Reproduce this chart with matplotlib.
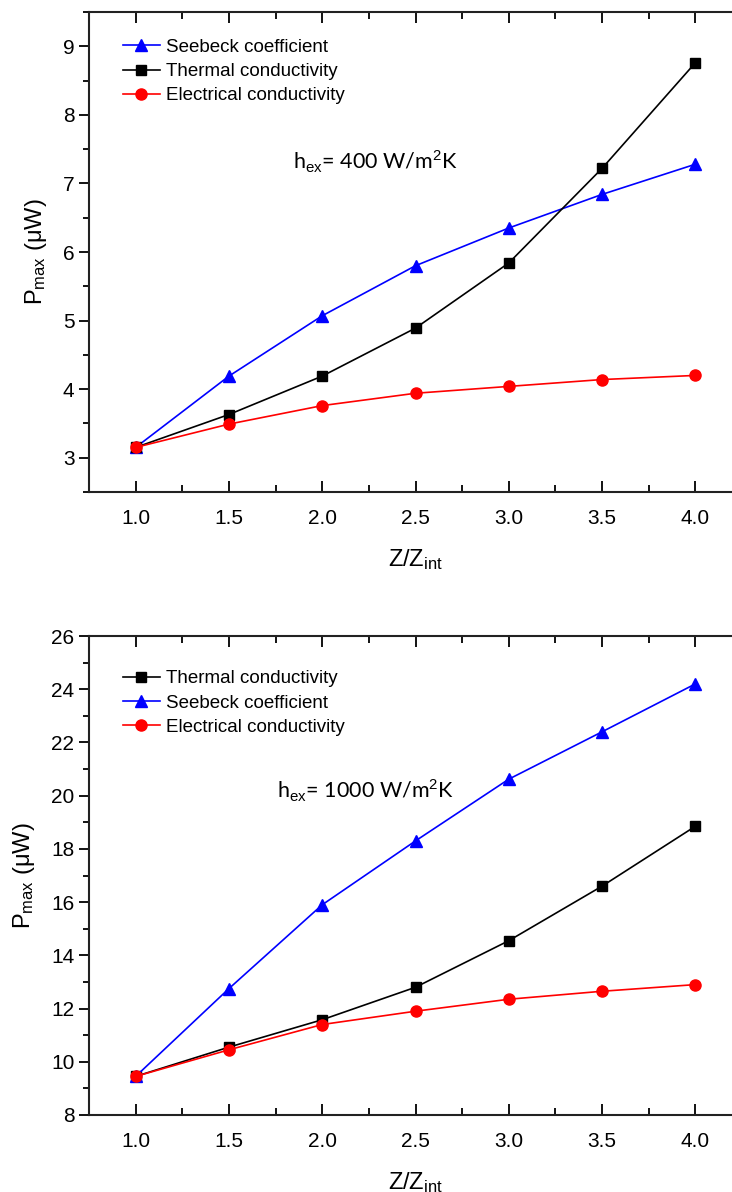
import matplotlib
matplotlib.use("Agg")
import matplotlib.pyplot as plt
from matplotlib.ticker import MultipleLocator

# ─── Data ────────────────────────────────────────────────────────────────────

z_ratio = [1.0, 1.5, 2.0, 2.5, 3.0, 3.5, 4.0]

# h_ex = 400 W/m2K
seebeck_400    = [3.15, 4.19, 5.07, 5.80, 6.35, 6.84, 7.28]
thermal_400    = [3.15, 3.63, 4.19, 4.89, 5.84, 7.22, 8.76]
electrical_400 = [3.15, 3.49, 3.76, 3.94, 4.04, 4.14, 4.20]

# h_ex = 1000 W/m2K
thermal_1000    = [9.45, 10.55, 11.58, 12.80, 14.55, 16.60, 18.85]
seebeck_1000    = [9.45, 12.75, 15.90, 18.30, 20.62, 22.40, 24.20]
electrical_1000 = [9.45, 10.45, 11.40, 11.90, 12.35, 12.65, 12.90]

x_ticks = [1.0, 1.5, 2.0, 2.5, 3.0, 3.5, 4.0]

# ─── Style ───────────────────────────────────────────────────────────────────

plt.rcParams["font.family"] = ["Liberation Sans", "DejaVu Sans"]
plt.rcParams["mathtext.fontset"] = "custom"
plt.rcParams["mathtext.rm"] = "Liberation Sans"
plt.rcParams["mathtext.it"] = "Liberation Sans:italic"

STYLES = {
    "Seebeck coefficient":     dict(color="#0000ff", marker="^", markersize=9),
    "Thermal conductivity":    dict(color="#000000", marker="s", markersize=7),
    "Electrical conductivity": dict(color="#ff0000", marker="o", markersize=8),
}

fig = plt.figure(figsize=(7.32, 11.92), dpi=100)

# axes run slightly past the right edge, as in the cropped original
W, H = 732.0, 1192.0
ax_top = fig.add_axes([89 / W, (H - 492) / H, 653 / W, 480 / H])
ax_bot = fig.add_axes([89 / W, (H - 1115) / H, 653 / W, 479 / H])


def style_axes(ax, ylim, ymajor, yminor):
    ax.set_xlim(0.75, 4.25)
    ax.set_ylim(*ylim)
    ax.set_xticks(x_ticks)
    ax.set_xticklabels([f"{v:.1f}" for v in x_ticks])
    ax.xaxis.set_minor_locator(MultipleLocator(0.25))
    ax.yaxis.set_major_locator(MultipleLocator(ymajor))
    ax.yaxis.set_minor_locator(MultipleLocator(yminor))
    ax.tick_params(axis="x", which="both", direction="in", top=True,
                   labelsize=15, pad=12, width=1.3)
    ax.tick_params(axis="x", which="major", length=8)
    ax.tick_params(axis="x", which="minor", length=5)
    ax.tick_params(axis="y", which="both", direction="out", labelsize=15,
                   width=1.3)
    ax.tick_params(axis="y", which="major", length=7)
    ax.tick_params(axis="y", which="minor", length=4)
    for sp in ax.spines.values():
        sp.set_linewidth(1.5)
        sp.set_color("#222222")
    sec = ax.secondary_yaxis("right")
    sec.yaxis.set_major_locator(MultipleLocator(ymajor))
    sec.yaxis.set_minor_locator(MultipleLocator(yminor))
    sec.tick_params(which="both", direction="in", labelright=False, width=1.3)
    sec.tick_params(which="major", length=7)
    sec.tick_params(which="minor", length=4)
    sec.spines["right"].set_linewidth(1.5)
    ax.set_ylabel(r"P$_{\mathrm{max}}$ ($\mathrm{\mu}$W)", fontsize=17, labelpad=10)
    ax.set_xlabel(r"Z/Z$_{\mathrm{int}}$", fontsize=17, labelpad=14)


def draw(ax, series, legend_top):
    for name, ys in series:
        ax.plot(z_ratio, ys, linewidth=1.2, label=name, **STYLES[name])
    ax.legend(loc="upper left", bbox_to_anchor=(0.04, legend_top), frameon=False,
              fontsize=13.5, handlelength=2.0, handletextpad=0.3,
              labelspacing=0.38, borderaxespad=0.0)


# ─── Top panel ───────────────────────────────────────────────────────────────

draw(ax_top, [("Seebeck coefficient", seebeck_400),
              ("Thermal conductivity", thermal_400),
              ("Electrical conductivity", electrical_400)], 0.96)
style_axes(ax_top, (2.5, 9.5), 1, 0.5)
ax_top.text(1.845, 7.31, r"h$_{\mathrm{ex}}$= 400 W/m$^{2}$K", fontsize=15.5,
            family=["Lato", "DejaVu Sans"], va="center", ha="left")

# ─── Bottom panel ────────────────────────────────────────────────────────────

draw(ax_bot, [("Thermal conductivity", thermal_1000),
              ("Seebeck coefficient", seebeck_1000),
              ("Electrical conductivity", electrical_1000)], 0.944)
style_axes(ax_bot, (8, 26), 2, 1)
ax_bot.text(1.76, 20.2, r"h$_{\mathrm{ex}}$= 1000 W/m$^{2}$K", fontsize=15.5,
            family=["Lato", "DejaVu Sans"], va="center", ha="left")

fig.savefig("out.png", dpi=100)
